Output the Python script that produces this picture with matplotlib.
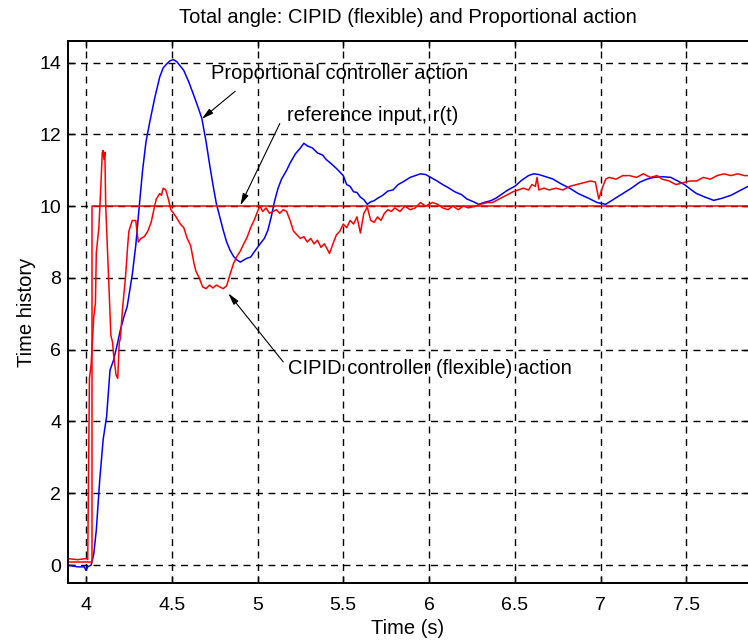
import matplotlib
matplotlib.use("Agg")
import matplotlib.pyplot as plt

plt.rcParams['font.family'] = ['Liberation Sans', 'DejaVu Sans']

# reference input r(t)
t_ref = [3.895, 4.033, 4.033, 7.86]
r_ref = [0.08, 0.08, 10.0, 10.0]

# CIPID controller (flexible) response
t_cipid = [3.895, 3.95, 4.00, 4.01, 4.02, 4.03, 4.045, 4.055, 4.06, 4.075, 4.085,
           4.095, 4.10, 4.105, 4.11, 4.115, 4.125, 4.135, 4.145, 4.155, 4.16, 4.175,
           4.185, 4.194, 4.20, 4.214, 4.23, 4.243, 4.25, 4.27, 4.29, 4.305, 4.32,
           4.34, 4.36, 4.38, 4.40, 4.41, 4.43, 4.44, 4.45, 4.465, 4.48, 4.495, 4.51,
           4.525, 4.55, 4.57, 4.59, 4.61, 4.63, 4.64, 4.66, 4.68, 4.70, 4.72, 4.74,
           4.76, 4.78, 4.80, 4.82, 4.84, 4.86, 4.88, 4.90, 4.92, 4.94, 4.96, 4.98,
           5.00, 5.015, 5.03, 5.05, 5.07, 5.09, 5.11, 5.13, 5.15, 5.17, 5.19, 5.21,
           5.23, 5.25, 5.27, 5.29, 5.31, 5.33, 5.35, 5.37, 5.39, 5.40, 5.42, 5.44,
           5.46, 5.48, 5.50, 5.52, 5.54, 5.56, 5.58, 5.60, 5.62, 5.64, 5.66, 5.68,
           5.70, 5.72, 5.74, 5.76, 5.78, 5.80, 5.83, 5.86, 5.89, 5.92, 5.95, 5.98,
           6.02, 6.05, 6.08, 6.11, 6.14, 6.17, 6.20, 6.23, 6.27, 6.30, 6.34, 6.37,
           6.41, 6.45, 6.49, 6.52, 6.55, 6.58, 6.60, 6.62, 6.63, 6.64, 6.67, 6.70,
           6.74, 6.78, 6.82, 6.86, 6.90, 6.94, 6.97, 6.99, 7.01, 7.03, 7.05, 7.09,
           7.13, 7.17, 7.21, 7.25, 7.29, 7.33, 7.36, 7.40, 7.44, 7.48, 7.52, 7.56,
           7.60, 7.64, 7.68, 7.72, 7.76, 7.80, 7.84, 7.86]
y_cipid = [0.18, 0.15, 0.18, 0.15, 5.2, 5.6, 6.9, 7.3, 8.7, 9.4, 10.4,
           11.5, 11.55, 11.3, 11.5, 10.0, 8.8, 7.6, 6.4, 6.2, 5.9, 5.3,
           5.2, 6.2, 6.3, 7.2, 8.0, 8.9, 9.3, 9.6, 9.6, 9.0, 9.1,
           9.15, 9.3, 9.55, 10.0, 10.2, 10.35, 10.3, 10.5, 10.45, 10.2, 9.9, 9.8,
           9.7, 9.5, 9.4, 9.1, 8.9, 8.4, 8.2, 8.0, 7.75, 7.7, 7.8, 7.72,
           7.8, 7.75, 7.7, 7.78, 8.1, 8.4, 8.6, 8.75, 8.95, 9.14, 9.4, 9.6,
           9.85, 10.0, 9.85, 9.95, 9.8, 9.85, 9.9, 9.8, 9.9, 9.85, 9.6, 9.3,
           9.2, 9.1, 9.15, 9.0, 9.1, 8.95, 9.05, 8.85, 8.95, 8.86, 8.68, 8.95,
           9.2, 9.3, 9.5, 9.4, 9.6, 9.5, 9.7, 9.25, 9.8, 9.97, 9.6, 9.55,
           9.7, 9.6, 9.8, 9.9, 9.85, 9.95, 9.85, 10.0, 9.9, 9.95, 10.1, 10.0,
           10.1, 10.05, 9.95, 9.9, 10.0, 9.9, 10.0, 9.95, 10.0, 10.05, 10.1, 10.1,
           10.2, 10.3, 10.4, 10.45, 10.5, 10.45, 10.6, 10.55, 10.8, 10.45, 10.5, 10.45,
           10.5, 10.45, 10.55, 10.6, 10.65, 10.7, 10.67, 10.2, 10.5, 10.75, 10.8, 10.75,
           10.85, 10.85, 10.8, 10.9, 10.8, 10.85, 10.75, 10.7, 10.6, 10.65, 10.7, 10.7,
           10.8, 10.75, 10.85, 10.9, 10.85, 10.9, 10.85, 10.85]

# Proportional controller response
t_prop = [3.895, 3.95, 3.99, 4.00, 4.01, 4.03, 4.045, 4.06, 4.08, 4.10, 4.12,
          4.14, 4.16, 4.18, 4.20, 4.22, 4.24, 4.27, 4.29, 4.31, 4.33, 4.35, 4.37,
          4.40, 4.43, 4.45, 4.47, 4.49, 4.51, 4.53, 4.55, 4.57, 4.60, 4.625, 4.65,
          4.675, 4.70, 4.72, 4.74, 4.76, 4.78, 4.80, 4.82, 4.84, 4.86, 4.88, 4.90,
          4.92, 4.94, 4.96, 4.98, 5.00, 5.02, 5.04, 5.06, 5.08, 5.10, 5.12, 5.14,
          5.17, 5.19, 5.22, 5.25, 5.27, 5.29, 5.32, 5.35, 5.38, 5.40, 5.43, 5.46,
          5.48, 5.50, 5.52, 5.54, 5.56, 5.58, 5.60, 5.62, 5.64, 5.66, 5.68, 5.70,
          5.73, 5.76, 5.79, 5.82, 5.85, 5.89, 5.92, 5.95, 5.98, 6.01, 6.04, 6.08,
          6.11, 6.15, 6.19, 6.22, 6.26, 6.29, 6.32, 6.36, 6.39, 6.43, 6.46, 6.50,
          6.54, 6.58, 6.61, 6.64, 6.68, 6.72, 6.77, 6.82, 6.87, 6.93, 6.98, 7.03,
          7.08, 7.13, 7.18, 7.23, 7.27, 7.31, 7.36, 7.41, 7.45, 7.49, 7.53, 7.56,
          7.61, 7.66, 7.71, 7.76, 7.80, 7.84, 7.86]
y_prop = [0.0, -0.05, -0.05, -0.15, -0.05, 0.0, 0.3, 0.97, 2.37, 3.5, 4.13,
          5.43, 5.7, 6.1, 6.54, 6.9, 7.2, 8.1, 8.9, 9.97, 11.0, 11.8, 12.3,
          13.0, 13.6, 13.85, 13.96, 14.05, 14.08, 14.02, 13.9, 13.78, 13.45, 13.13, 12.8,
          12.45, 11.8, 11.18, 10.6, 10.07, 9.7, 9.33, 9.0, 8.77, 8.6, 8.5, 8.44,
          8.5, 8.55, 8.58, 8.72, 8.85, 8.98, 9.1, 9.32, 9.7, 10.15, 10.5, 10.75,
          11.0, 11.2, 11.45, 11.62, 11.75, 11.68, 11.62, 11.48, 11.42, 11.3, 11.18, 11.05,
          10.95, 10.85, 10.6, 10.55, 10.4, 10.38, 10.25, 10.18, 10.05, 10.12, 10.15, 10.22,
          10.3, 10.42, 10.45, 10.6, 10.68, 10.8, 10.85, 10.9, 10.88, 10.8, 10.72, 10.6,
          10.52, 10.4, 10.32, 10.2, 10.12, 10.05, 10.1, 10.15, 10.22, 10.35, 10.45, 10.55,
          10.72, 10.85, 10.9, 10.88, 10.82, 10.76, 10.62, 10.5, 10.35, 10.22, 10.1, 10.05,
          10.2, 10.35, 10.5, 10.67, 10.75, 10.8, 10.82, 10.8, 10.7, 10.6, 10.45, 10.35,
          10.25, 10.16, 10.22, 10.3, 10.4, 10.5, 10.55]

x_ticks = [4, 4.5, 5, 5.5, 6, 6.5, 7, 7.5]
x_tick_labels = ['4', '4.5', '5', '5.5', '6', '6.5', '7', '7.5']
y_ticks = [0, 2, 4, 6, 8, 10, 12, 14]

fig = plt.figure(figsize=(7.48, 6.42), dpi=100)
ax = fig.add_axes([68 / 748, 59 / 642, 1 - 68 / 748, 542 / 642])

ax.plot(t_prop, y_prop, color='#0000ff', lw=1.1)
ax.plot(t_ref, r_ref, color='#ff0000', lw=1.1)
ax.plot(t_cipid, y_cipid, color='#ff0000', lw=1.1)

ax.set_xlim(3.895, 7.86)
ax.set_ylim(-0.5, 14.6)
ax.set_xticks(x_ticks)
ax.set_xticklabels(x_tick_labels)
ax.set_yticks(y_ticks)
ax.grid(True, color='k', linestyle=(0, (5, 4)), linewidth=1.0)
ax.tick_params(direction='in', length=5, width=1, labelsize=14, top=True, right=True)
ax.tick_params(axis='x', pad=10)
ax.tick_params(axis='y', pad=5)
for side in ['left', 'bottom', 'top']:
    ax.spines[side].set_linewidth(1.4)
ax.spines['right'].set_visible(False)

ax.set_title('Total angle: CIPID (flexible) and Proportional action', fontsize=14.5, pad=13)
ax.set_xlabel('Time (s)', fontsize=14.5, labelpad=4)
ax.set_ylabel('Time history', fontsize=14.5, labelpad=2)

arrow = dict(arrowstyle='-|>,head_width=0.18,head_length=0.7', color='k', lw=0.8,
             shrinkA=0, shrinkB=0)
ax.annotate('', xy=(4.675, 12.43), xytext=(4.87, 13.2), arrowprops=arrow)
ax.text(4.73, 13.7, 'Proportional controller action', fontsize=14.5, va='center', ha='left')

ax.annotate('', xy=(4.90, 10.02), xytext=(5.13, 12.3), arrowprops=arrow)
ax.text(5.17, 12.52, 'reference input, r(t)', fontsize=14.5, va='center', ha='left')

ax.annotate('', xy=(4.83, 7.57), xytext=(5.15, 5.66), arrowprops=arrow)
ax.text(5.175, 5.48, 'CIPID controller (flexible) action', fontsize=14.5, va='center', ha='left')

fig.savefig('out.png', dpi=100, facecolor='white')
